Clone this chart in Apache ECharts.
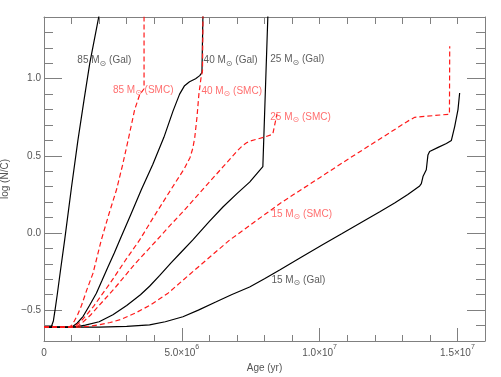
<!DOCTYPE html>
<html>
<head>
<meta charset="utf-8">
<script src="https://cdn.jsdelivr.net/npm/echarts@6/dist/echarts.min.js"></script>
<style>
html,body{margin:0;padding:0;background:#fff;}
#chart{width:501px;height:377px;}
</style>
</head>
<body>
<div id="chart"></div>
<script>
// Age in Myr, value log(N/C)
const gal85 = [[0,-0.61],[0.26,-0.61],[0.3,-0.6],[0.34,-0.57],[0.4,-0.5],[0.48,-0.4],[0.6,-0.24],[0.75,-0.045],[1.0,0.3],[1.23,0.6],[1.45,0.86],[1.66,1.1],[2.04,1.45]];
const smc85 = [[0,-0.61],[0.9,-0.61],[1.0,-0.6],[1.1,-0.57],[1.22,-0.53],[1.36,-0.47],[1.55,-0.37],[1.78,-0.26],[2.08,-0.045],[2.35,0.12],[2.63,0.28],[2.85,0.44],[3.05,0.6],[3.29,0.8],[3.47,0.896],[3.63,0.935],[3.63,1.45]];
const gal40 = [[0,-0.61],[0.95,-0.61],[1.05,-0.605],[1.2,-0.585],[1.42,-0.54],[1.65,-0.47],[1.9,-0.39],[2.1,-0.31],[2.32,-0.22],[2.55,-0.13],[2.75,-0.045],[3.15,0.12],[3.53,0.28],[3.95,0.445],[4.35,0.62],[4.68,0.79],[4.92,0.9],[5.1,0.955],[5.28,0.98],[5.5,1.0],[5.65,1.02],[5.73,1.04],[5.77,1.45]];
const smc40 = [[0,-0.61],[1.0,-0.61],[1.1,-0.605],[1.3,-0.58],[1.55,-0.53],[1.8,-0.475],[2.1,-0.4],[2.4,-0.325],[2.7,-0.245],[3.0,-0.165],[3.47,-0.045],[4.0,0.11],[4.6,0.28],[5.1,0.42],[5.3,0.49],[5.4,0.55],[5.47,0.62],[5.55,0.75],[5.62,0.9],[5.7,1.01],[5.75,1.05],[5.77,1.45]];
const gal25 = [[0,-0.61],[1.0,-0.61],[1.25,-0.605],[1.5,-0.597],[2.0,-0.575],[2.5,-0.53],[3.0,-0.47],[3.5,-0.4],[3.83,-0.345],[4.2,-0.275],[4.6,-0.195],[5.0,-0.12],[5.4,-0.045],[6.0,0.075],[6.5,0.17],[7.0,0.255],[7.46,0.33],[7.94,0.43],[8.13,1.45]];
const smc25 = [[0,-0.61],[1.1,-0.61],[1.25,-0.6],[1.4,-0.58],[1.7,-0.53],[2.0,-0.47],[2.6,-0.35],[3.3,-0.2],[4.1,-0.045],[4.5,0.035],[5.0,0.13],[5.65,0.26],[6.5,0.43],[7.0,0.53],[7.2,0.565],[7.35,0.585],[7.5,0.597],[8.0,0.622],[8.3,0.64],[8.45,0.77]];
const gal15 = [[0,-0.61],[2.0,-0.61],[3.0,-0.605],[3.83,-0.595],[4.4,-0.575],[5.04,-0.543],[5.6,-0.5],[6.25,-0.446],[6.8,-0.4],[7.46,-0.35],[8.0,-0.297],[8.55,-0.24],[9.3,-0.16],[10.12,-0.075],[10.8,-0.005],[11.57,0.075],[12.2,0.14],[12.72,0.195],[13.2,0.25],[13.63,0.305],[13.69,0.32],[13.75,0.366],[13.87,0.41],[13.93,0.506],[13.99,0.528],[14.3,0.555],[14.6,0.58],[14.78,0.6],[14.9,0.69],[15.02,0.8],[15.08,0.907]];
const smc15 = [[0,-0.61],[1.2,-0.61],[1.6,-0.605],[2.0,-0.595],[2.4,-0.58],[2.8,-0.56],[3.3,-0.52],[3.83,-0.47],[4.5,-0.39],[5.5,-0.235],[6.74,-0.045],[8.55,0.19],[11.09,0.485],[13.2,0.725],[13.45,0.75],[14.71,0.77],[14.72,1.21]];

// Labels: [mass, kind, anchor age (Myr), anchor value]
const curveLabels = [
  ['85','Gal',1.21,1.112],
  ['85','SMC',2.50,0.918],
  ['40','Gal',5.79,1.112],
  ['40','SMC',5.71,0.914],
  ['25','Gal',8.21,1.117],
  ['25','SMC',8.21,0.745],
  ['15','SMC',8.25,0.117],
  ['15','Gal',8.25,-0.31]
];

const xMajorTicks = [0, 5e6, 1e7, 1.5e7];
const xMinorTicks = [1e6,2e6,3e6,4e6,6e6,7e6,8e6,9e6,1.1e7,1.2e7,1.3e7,1.4e7,1.6e7];
const xTopTicks = [1e6,2e6,3e6,4e6,5e6,6e6,7e6,8e6,9e6,1e7,1.1e7,1.2e7,1.3e7,1.4e7,1.5e7];
const yMajorTicks = [-0.5, 0, 0.5, 1.0];
const yMinorTicks = [-0.6,-0.4,-0.3,-0.2,-0.1,0.1,0.2,0.3,0.4,0.6,0.7,0.8,0.9,1.1,1.2,1.3];

const MYR = 1e6;
const toXY = arr => arr.map(p => [p[0]*MYR, p[1]]);

const AX = '#808080';
const FONT = 'Liberation Sans';
const BLACK = '#000000';
const RED = '#ff1a1a';

function lineSeries(name, data, red) {
  return {
    name, type: 'line', data: toXY(data), showSymbol: false, symbol: 'none',
    xAxisIndex: 0, yAxisIndex: 0, clip: true, silent: true, animation: false,
    smooth: false,
    lineStyle: red ? {color: RED, width: 1.2, type: [5, 3]} : {color: BLACK, width: 1.2},
    z: red ? 3 : 2
  };
}

const labelSeries = {
  type: 'scatter', xAxisIndex: 0, yAxisIndex: 0, symbolSize: 0, silent: true, animation: false,
  data: curveLabels.map(l => {
    const c = l[1] === 'Gal' ? '#333' : '#ff4a4a';
    return {
      value: [l[2]*MYR, l[3]],
      label: {
        show: true, position: 'right', distance: 0,
        formatter: '{a|' + l[0] + ' M}{s|⊙}{a| (' + l[1] + ')}',
        rich: {
          a: {color: c, fontSize: 10, fontFamily: FONT, lineHeight: 12, verticalAlign: 'top'},
          s: {color: c, fontSize: 8, fontFamily: 'DejaVu Sans', lineHeight: 8, verticalAlign: 'bottom'}
        }
      }
    };
  }),
  z: 5
};

function xLabel(v) {
  if (v === 0) return '{a|0}';
  const e = Math.floor(Math.log10(v) + 1e-9);
  const m = v / Math.pow(10, e);
  return '{a|' + m.toFixed(1) + '×10}{s|' + e + '}';
}

const chart = echarts.init(document.getElementById('chart'), null, {renderer: 'canvas'});
chart.setOption({
  animation: false,
  backgroundColor: '#ffffff',
  grid: {left: 44, right: 16, top: 17, bottom: 36, containLabel: false, outerBoundsMode: 'none'},
  xAxis: [
    {
      type: 'value', position: 'bottom', min: 0, max: 1.6e7,
      name: 'Age (yr)', nameLocation: 'middle', nameGap: 12,
      nameTextStyle: {color: '#555', fontSize: 10, fontFamily: FONT},
      axisLine: {show: true, onZero: false, lineStyle: {color: AX, width: 1}},
      axisTick: {show: true, inside: true, length: 13, customValues: xMajorTicks, lineStyle: {color: AX}},
      axisLabel: {
        show: true, customValues: xMajorTicks, margin: 3, formatter: xLabel,
        rich: {
          a: {color: '#555', fontSize: 10, fontFamily: FONT, lineHeight: 14, verticalAlign: 'bottom'},
          s: {color: '#555', fontSize: 7, fontFamily: FONT, lineHeight: 14, verticalAlign: 'top'}
        }
      },
      splitLine: {show: false}
    },
    {
      type: 'value', position: 'bottom', min: 0, max: 1.6e7,
      axisLine: {show: false, onZero: false},
      axisTick: {show: true, inside: true, length: 6, customValues: xMinorTicks, lineStyle: {color: AX}},
      axisLabel: {show: false}, splitLine: {show: false}
    },
    {
      type: 'value', position: 'top', min: 0, max: 1.6e7,
      axisLine: {show: true, onZero: false, lineStyle: {color: AX, width: 1}},
      axisTick: {show: true, inside: true, length: 7, customValues: xTopTicks, lineStyle: {color: AX}},
      axisLabel: {show: false}, splitLine: {show: false}
    }
  ],
  yAxis: [
    {
      type: 'value', position: 'left', min: -0.7, max: 1.4,
      name: 'log (N/C)', nameLocation: 'middle', nameGap: 28, nameRotate: 90,
      nameTextStyle: {color: '#555', fontSize: 10, fontFamily: FONT},
      axisLine: {show: true, onZero: false, lineStyle: {color: AX, width: 1}},
      axisTick: {show: true, inside: true, length: 18, customValues: yMajorTicks, lineStyle: {color: AX}},
      axisLabel: {
        show: true, customValues: yMajorTicks, margin: 3, color: '#555', fontSize: 10, fontFamily: FONT,
        formatter: v => (v < 0 ? '\u2212' : '') + Math.abs(v).toFixed(1)
      },
      splitLine: {show: false}
    },
    {
      type: 'value', position: 'left', min: -0.7, max: 1.4,
      axisLine: {show: false, onZero: false},
      axisTick: {show: true, inside: true, length: 9, customValues: yMinorTicks, lineStyle: {color: AX}},
      axisLabel: {show: false}, splitLine: {show: false}
    },
    {
      type: 'value', position: 'right', min: -0.7, max: 1.4,
      axisLine: {show: true, onZero: false, lineStyle: {color: AX, width: 1}},
      axisTick: {show: true, inside: true, length: 18, customValues: yMajorTicks, lineStyle: {color: AX}},
      axisLabel: {show: false}, splitLine: {show: false}
    },
    {
      type: 'value', position: 'right', min: -0.7, max: 1.4,
      axisLine: {show: false, onZero: false},
      axisTick: {show: true, inside: true, length: 9, customValues: yMinorTicks, lineStyle: {color: AX}},
      axisLabel: {show: false}, splitLine: {show: false}
    }
  ],
  series: [
    lineSeries('85 Gal', gal85, false),
    lineSeries('40 Gal', gal40, false),
    lineSeries('25 Gal', gal25, false),
    lineSeries('15 Gal', gal15, false),
    lineSeries('85 SMC', smc85, true),
    lineSeries('40 SMC', smc40, true),
    lineSeries('25 SMC', smc25, true),
    lineSeries('15 SMC', smc15, true),
    labelSeries
  ]
});
</script>
</body>
</html>
